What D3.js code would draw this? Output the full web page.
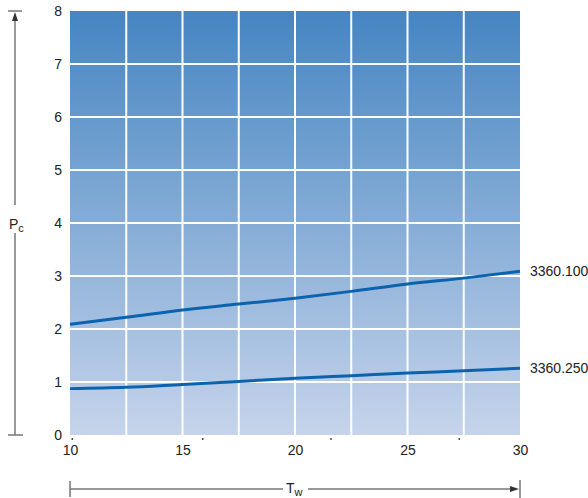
<!DOCTYPE html>
<html lang="en">
<head>
<meta charset="UTF-8" />
<title>Pc vs Tw</title>
<script src="https://cdn.jsdelivr.net/npm/d3@7"></script>
<style>
  body { margin: 0; background: #fff; }
  svg text { font-family: "Liberation Sans", Arial, sans-serif; fill: #222; }
</style>
</head>
<body>
<svg class="svg" width="588" height="498"></svg>
<script>
// data
const tw = [10, 12.5, 15, 17.5, 20, 22.5, 25, 27.5, 30];
const pc100 = [2.09, 2.22, 2.36, 2.47, 2.58, 2.71, 2.85, 2.96, 3.09];
const pc250 = [0.875, 0.9, 0.955, 1.01, 1.07, 1.12, 1.17, 1.21, 1.26];
const seriesNames = ['3360.100', '3360.250'];
const xTicks = [10, 15, 20, 25, 30];
const yTicks = [0, 1, 2, 3, 4, 5, 6, 7, 8];
const xGrid = [12.5, 15, 17.5, 20, 22.5, 25, 27.5];
const yGrid = [1, 2, 3, 4, 5, 6, 7];
const minorMarks = [10.1, 15.9, 21.6, 27.3];

const svg = d3.select('.svg');
const plotL = 70, plotR = 520, plotT = 11, plotB = 435;

const x = d3.scaleLinear().domain([10, 30]).range([plotL, plotR]);
const y = d3.scaleLinear().domain([0, 8]).range([plotB, plotT]);

// background gradient
const defs = svg.append('defs');
const grad = defs.append('linearGradient')
  .attr('id', 'bg').attr('x1', 0).attr('y1', 0).attr('x2', 0).attr('y2', 1);
grad.append('stop').attr('offset', '0%').attr('stop-color', '#4585c2');
grad.append('stop').attr('offset', '100%').attr('stop-color', '#c6d4eb');

svg.append('rect')
  .attr('x', plotL).attr('y', plotT)
  .attr('width', plotR - plotL).attr('height', plotB - plotT)
  .attr('fill', 'url(#bg)');

// white grid
const grid = svg.append('g').attr('stroke', '#fff').attr('stroke-width', 2);
grid.selectAll('.vg').data(xGrid).enter().append('line')
  .attr('x1', d => x(d)).attr('x2', d => x(d))
  .attr('y1', plotT).attr('y2', plotB);
grid.selectAll('.hg').data(yGrid).enter().append('line')
  .attr('x1', plotL).attr('x2', plotR)
  .attr('y1', d => y(d)).attr('y2', d => y(d));

// axes (labels only)
const xAxis = d3.axisBottom(x).tickValues(xTicks).tickSize(0).tickPadding(10);
const yAxis = d3.axisLeft(y).tickValues(yTicks).tickSize(0).tickPadding(8);
const gx = svg.append('g').attr('transform', `translate(0,${plotB})`).call(xAxis);
const gy = svg.append('g').attr('transform', `translate(${plotL},0)`).call(yAxis);
[gx, gy].forEach(g => {
  g.select('.domain').remove();
  g.selectAll('text').attr('font-size', 14).attr('fill', '#222')
    .attr('font-family', '"Liberation Sans", Arial, sans-serif');
});

// tiny marks under the axis
svg.selectAll('.mm').data(minorMarks).enter().append('rect')
  .attr('x', d => x(d) - 0.7).attr('y', plotB + 3)
  .attr('width', 1.4).attr('height', 2).attr('fill', '#444');

// curves
const line = d3.line()
  .x((d, i) => x(tw[i]))
  .y(d => y(d))
  .curve(d3.curveMonotoneX);

[pc100, pc250].forEach((s, k) => {
  svg.append('path')
    .datum(s)
    .attr('d', line)
    .attr('fill', 'none')
    .attr('stroke', '#0b63ad')
    .attr('stroke-width', 3);
  svg.append('text')
    .attr('x', plotR + 10)
    .attr('y', y(s[s.length - 1]))
    .attr('dy', '0.35em')
    .attr('font-size', 14)
    .text(seriesNames[k]);
});

// left dimension arrow (Pc)
const ax = svg.append('g').attr('stroke', '#777').attr('stroke-width', 1.5).attr('fill', 'none');
const lx = 15, midY = 219;
ax.append('line').attr('x1', 8).attr('x2', 22).attr('y1', plotT).attr('y2', plotT);
ax.append('line').attr('x1', 8).attr('x2', 23).attr('y1', plotB).attr('y2', plotB);
ax.append('line').attr('x1', lx).attr('x2', lx).attr('y1', plotT + 4).attr('y2', 205);
ax.append('line').attr('x1', lx).attr('x2', lx).attr('y1', 233).attr('y2', plotB);
svg.append('path')
  .attr('d', `M${lx},${plotT + 1} L${lx - 3},${plotT + 10} L${lx + 3},${plotT + 10} Z`)
  .attr('fill', '#333');
const pl = svg.append('text').attr('x', 9).attr('y', midY + 10).attr('font-size', 14);
pl.append('tspan').text('P');
pl.append('tspan').attr('font-size', 11).attr('dy', 3).text('c');

// bottom dimension arrow (Tw)
const by = 489;
const bx = svg.append('g').attr('stroke', '#777').attr('stroke-width', 1.5).attr('fill', 'none');
bx.append('line').attr('x1', plotL).attr('x2', plotL).attr('y1', 481).attr('y2', 497);
bx.append('line').attr('x1', plotR).attr('x2', plotR).attr('y1', 480).attr('y2', 498);
bx.append('line').attr('x1', plotL).attr('x2', 283).attr('y1', by).attr('y2', by);
bx.append('line').attr('x1', 308).attr('x2', plotR - 4).attr('y1', by).attr('y2', by);
svg.append('path')
  .attr('d', `M${plotR - 1},${by} L${plotR - 10},${by - 3} L${plotR - 10},${by + 3} Z`)
  .attr('fill', '#333');
const tl = svg.append('text').attr('x', 286).attr('y', by + 4).attr('font-size', 14);
tl.append('tspan').text('T');
tl.append('tspan').attr('font-size', 11).attr('dy', 3).text('w');
</script>
</body>
</html>
